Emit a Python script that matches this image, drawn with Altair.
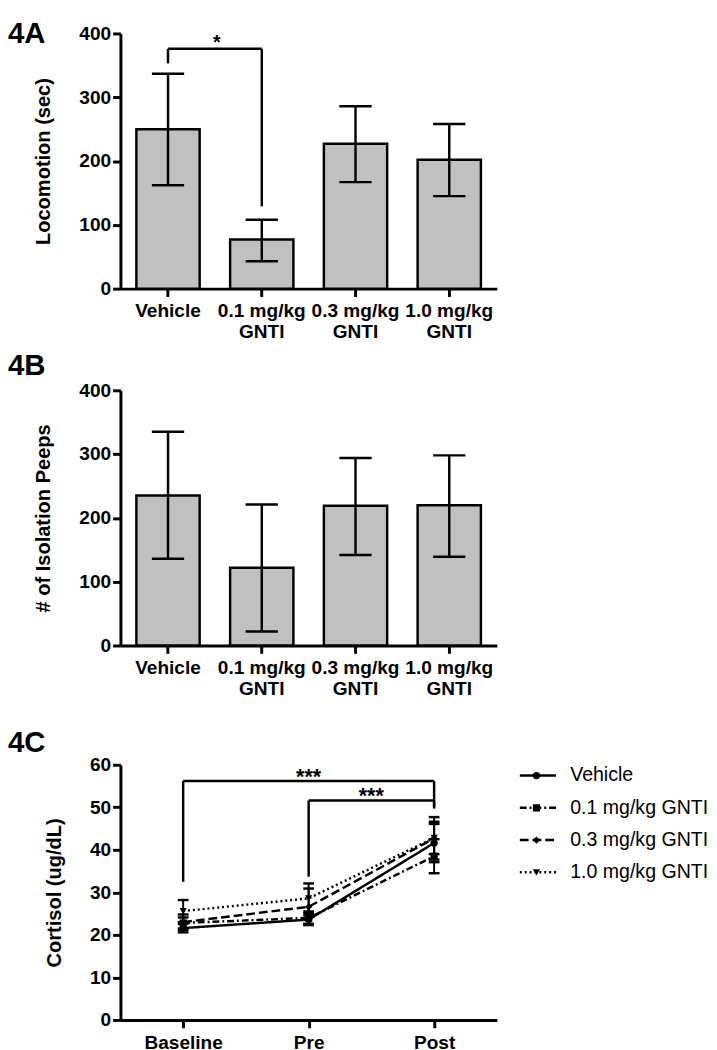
import altair as alt
import pandas as pd

FONT = "Liberation Sans"

# ---------------- data ----------------
groups = ["Vehicle", "0.1 mg/kg GNTI", "0.3 mg/kg GNTI", "1.0 mg/kg GNTI"]

loco_mean = [250, 77, 227, 202]
loco_lower = [162, 43, 167, 145]
loco_upper = [337, 108, 286, 258]

peeps_mean = [235, 122, 219, 220]
peeps_lower = [136, 22, 142, 139]
peeps_upper = [335, 221, 294, 298]

timepoints = ["Baseline", "Pre", "Post"]
cort_vehicle = [21.6, 23.6, 41.6]
cort_vehicle_err = [1.0, 1.0, 4.5]
cort_01 = [22.8, 24.0, 38.5]
cort_01_err = [1.3, 1.5, 4.0]
cort_03 = [23.0, 26.6, 42.7]
cort_03_err = [1.8, 4.3, 5.0]
cort_10 = [25.6, 28.6, 42.8]
cort_10_err = [2.6, 3.5, 3.8]

# significance annotations
sig_a_pair = ["Vehicle", "0.1 mg/kg GNTI"]
sig_a_top = 376
sig_a_leg_bottom = [353, 129]
sig_a_label = ["*"]

sig_c_left = ["Baseline", "Pre"]
sig_c_right = ["Post", "Post"]
sig_c_top = [56.2, 51.6]
sig_c_left_bottom = [32.5, 33.7]
sig_c_right_bottom = [50.1, 49.7]
sig_c_label = ["***", "***"]

# ---------------- styles ----------------
W, H = 385, 261


def y_axis(values, title):
    return alt.Axis(values=values, title=title, grid=False,
                    domainColor="black", domainWidth=3,
                    tickColor="black", tickWidth=3, tickSize=8,
                    labelFont=FONT, labelFontSize=19.5, labelFontWeight="bold",
                    labelColor="black", labelPadding=2,
                    titleFont=FONT, titleFontSize=20.5, titleFontWeight="bold",
                    titleColor="black", titlePadding=26)


def x_axis(label_expr=None):
    kw = dict(title=None, grid=False, labelAngle=0,
              domainColor="black", domainWidth=3,
              tickColor="black", tickWidth=3, tickSize=8,
              labelFont=FONT, labelFontSize=19.5, labelFontWeight="bold",
              labelColor="black", labelPadding=6, labelLineHeight=21,
              labelOverlap=False, labelLimit=300)
    if label_expr:
        kw["labelExpr"] = label_expr
    return alt.Axis(**kw)


def panel_title(text, dy):
    return alt.TitleParams(text=text, anchor="start", frame="group", dx=-115, dy=dy,
                           offset=0, fontSize=30, font=FONT, fontWeight="bold",
                           color="black", baseline="alphabetic", align="left")


def bar_panel(means, lows, highs, ytitle, label_expr, title_text, title_dy, sig=False):
    df = pd.DataFrame({"group": groups, "mean": means, "lo": lows, "hi": highs})
    xs = alt.Scale(domain=groups, paddingInner=0.325, paddingOuter=0.17)
    ys = alt.Scale(domain=[0, 400], nice=False)
    xax = x_axis(label_expr)
    yax = y_axis([0, 100, 200, 300, 400], ytitle)

    def X(field):
        return alt.X(field, type="nominal", sort=groups, scale=xs, axis=xax, bandPosition=0.5)

    def Xb(field):
        return alt.X(field, type="nominal", sort=groups, scale=xs, axis=xax)

    def Y(field):
        return alt.Y(field, type="quantitative", scale=ys, axis=yax)

    base = alt.Chart(df)
    bars = base.mark_bar(fill="#c0c0c0", stroke="black", strokeWidth=2.5).encode(
        x=Xb("group"), y=Y("mean"))
    err = base.mark_rule(color="black", strokeWidth=2.5).encode(
        x=X("group"), y=Y("lo"), y2="hi")
    cap_hi = base.mark_tick(color="black", size=33, thickness=2.5, opacity=1).encode(
        x=Xb("group"), y=Y("hi"))
    cap_lo = base.mark_tick(color="black", size=33, thickness=2.5, opacity=1).encode(
        x=Xb("group"), y=Y("lo"))
    layers = [bars, err, cap_hi, cap_lo]

    if sig:
        df_h = pd.DataFrame({"x1": [sig_a_pair[0]], "x2": [sig_a_pair[1]], "y": [sig_a_top]})
        df_v = pd.DataFrame({"x": sig_a_pair, "y1": sig_a_leg_bottom,
                             "y2": [sig_a_top, sig_a_top]})
        df_t = pd.DataFrame({"x": [sig_a_pair[0]], "y": [sig_a_top], "label": sig_a_label})
        h = alt.Chart(df_h).mark_rule(color="black", strokeWidth=2.5).encode(
            x=X("x1"), x2=alt.X2("x2", bandPosition=0.5), y=Y("y"))
        v = alt.Chart(df_v).mark_rule(color="black", strokeWidth=2.5).encode(
            x=X("x"), y=Y("y1"), y2="y2")
        t = alt.Chart(df_t).mark_text(font=FONT, fontSize=20, fontWeight="bold",
                                      color="black", dx=50, dy=0,
                                      baseline="alphabetic", align="center").encode(
            x=X("x"), y=Y("y"), text="label:N")
        layers += [h, v, t]

    return alt.layer(*layers).properties(width=W, height=H,
                                         title=panel_title(title_text, title_dy))


pa = bar_panel(loco_mean, loco_lower, loco_upper, "Locomotion (sec)",
               "split(replace(datum.label, ' GNTI', '|GNTI'), '|')", "4A", 50, sig=True)
pb = bar_panel(peeps_mean, peeps_lower, peeps_upper, "# of Isolation Peeps",
               "split(replace(datum.label, ' GNTI', '|GNTI|'), '|')", "4B", 24)

# ---------------- panel C ----------------
rows = []
for g, m, e in zip(groups, [cort_vehicle, cort_01, cort_03, cort_10],
                   [cort_vehicle_err, cort_01_err, cort_03_err, cort_10_err]):
    for t, mv, ev in zip(timepoints, m, e):
        rows.append({"group": g, "grp": g, "time": t, "mean": mv, "lo": mv - ev, "hi": mv + ev})
dfc = pd.DataFrame(rows)

xsc = alt.Scale(type="point", domain=timepoints, padding=0.5)
ysc = alt.Scale(domain=[0, 60], nice=False)
xaxc = x_axis()
yaxc = y_axis([0, 10, 20, 30, 40, 50, 60], "Cortisol (ug/dL)")


def XC(field):
    return alt.X(field, type="nominal", sort=timepoints, scale=xsc, axis=xaxc)


def YC(field):
    return alt.Y(field, type="quantitative", scale=ysc, axis=yaxc)


legend_lines = alt.Legend(title=None, orient="none", legendX=407, legendY=-5.5,
                          symbolType="stroke", symbolSize=1369, symbolStrokeWidth=2.5,
                          symbolStrokeColor="black", labelFont=FONT, labelFontSize=20,
                          labelFontWeight="normal", labelColor="black", labelOffset=13,
                          clipHeight=33, rowPadding=0, padding=0, labelLimit=400)
legend_shapes = alt.Legend(title=None, orient="none", legendX=421.5, legendY=-5.5,
                           symbolSize=55, symbolFillColor="black", symbolStrokeColor="black",
                           symbolStrokeWidth=0, labelExpr="''", labelFontSize=1,
                           clipHeight=33, rowPadding=0, padding=0)

basec = alt.Chart(dfc)
lines = basec.mark_line(color="black", strokeWidth=2.5).encode(
    x=XC("time"), y=YC("mean"),
    strokeDash=alt.StrokeDash("group:N", scale=alt.Scale(
        domain=groups, range=[[1, 0], [7, 3, 2, 3], [9, 4], [2, 3]]), legend=legend_lines),
)
pts = basec.mark_point(filled=True, size=55, color="black", opacity=1).encode(
    x=XC("time"), y=YC("mean"),
    shape=alt.Shape("grp:N", sort=groups, scale=alt.Scale(
        range=["circle", "square", "diamond", "triangle-down"]),
        legend=legend_shapes),
)
errc = basec.mark_rule(color="black", strokeWidth=2).encode(
    x=XC("time"), y=YC("lo"), y2="hi", detail="group:N")
caphc = basec.mark_tick(color="black", size=11, thickness=2.5, opacity=1).encode(
    x=XC("time"), y=YC("hi"), detail="group:N")
caplc = basec.mark_tick(color="black", size=11, thickness=2.5, opacity=1).encode(
    x=XC("time"), y=YC("lo"), detail="group:N")

df_ch = pd.DataFrame({"x1": sig_c_left, "x2": sig_c_right, "y": sig_c_top})
df_cv = pd.DataFrame({"x": sig_c_left + sig_c_right,
                      "y1": sig_c_left_bottom + sig_c_right_bottom,
                      "y2": sig_c_top + sig_c_top})
br_h = alt.Chart(df_ch).mark_rule(color="black", strokeWidth=2.5).encode(
    x=XC("x1"), x2="x2", y=YC("y"))
br_v = alt.Chart(df_cv).mark_rule(color="black", strokeWidth=2.5).encode(
    x=XC("x"), y=YC("y1"), y2="y2")
df_t1 = pd.DataFrame({"x": ["Pre"], "y": [sig_c_top[0]], "label": [sig_c_label[0]]})
df_t2 = pd.DataFrame({"x": ["Pre"], "y": [sig_c_top[1]], "label": [sig_c_label[1]]})
star1 = alt.Chart(df_t1).mark_text(font=FONT, fontSize=22, fontWeight="bold", color="black",
                                   dy=3, baseline="alphabetic", align="center").encode(
    x=XC("x"), y=YC("y"), text="label:N")
star2 = alt.Chart(df_t2).mark_text(font=FONT, fontSize=22, fontWeight="bold", color="black",
                                   dx=64, dy=3, baseline="alphabetic", align="center").encode(
    x=XC("x"), y=YC("y"), text="label:N")

pc = alt.layer(lines, br_h, br_v, errc, caphc, caplc, pts, star1, star2).properties(
    width=W, height=H, title=panel_title("4C", 27))

chart = (alt.vconcat(pa, pb, pc, spacing=10)
         .resolve_scale(x="independent", y="independent",
                        strokeDash="independent", shape="independent")
         .resolve_legend(strokeDash="independent", shape="independent")
         .configure_view(strokeWidth=0)
         .properties(padding=0))

chart.save("out.html", embed_options={"renderer": "svg", "actions": False})
